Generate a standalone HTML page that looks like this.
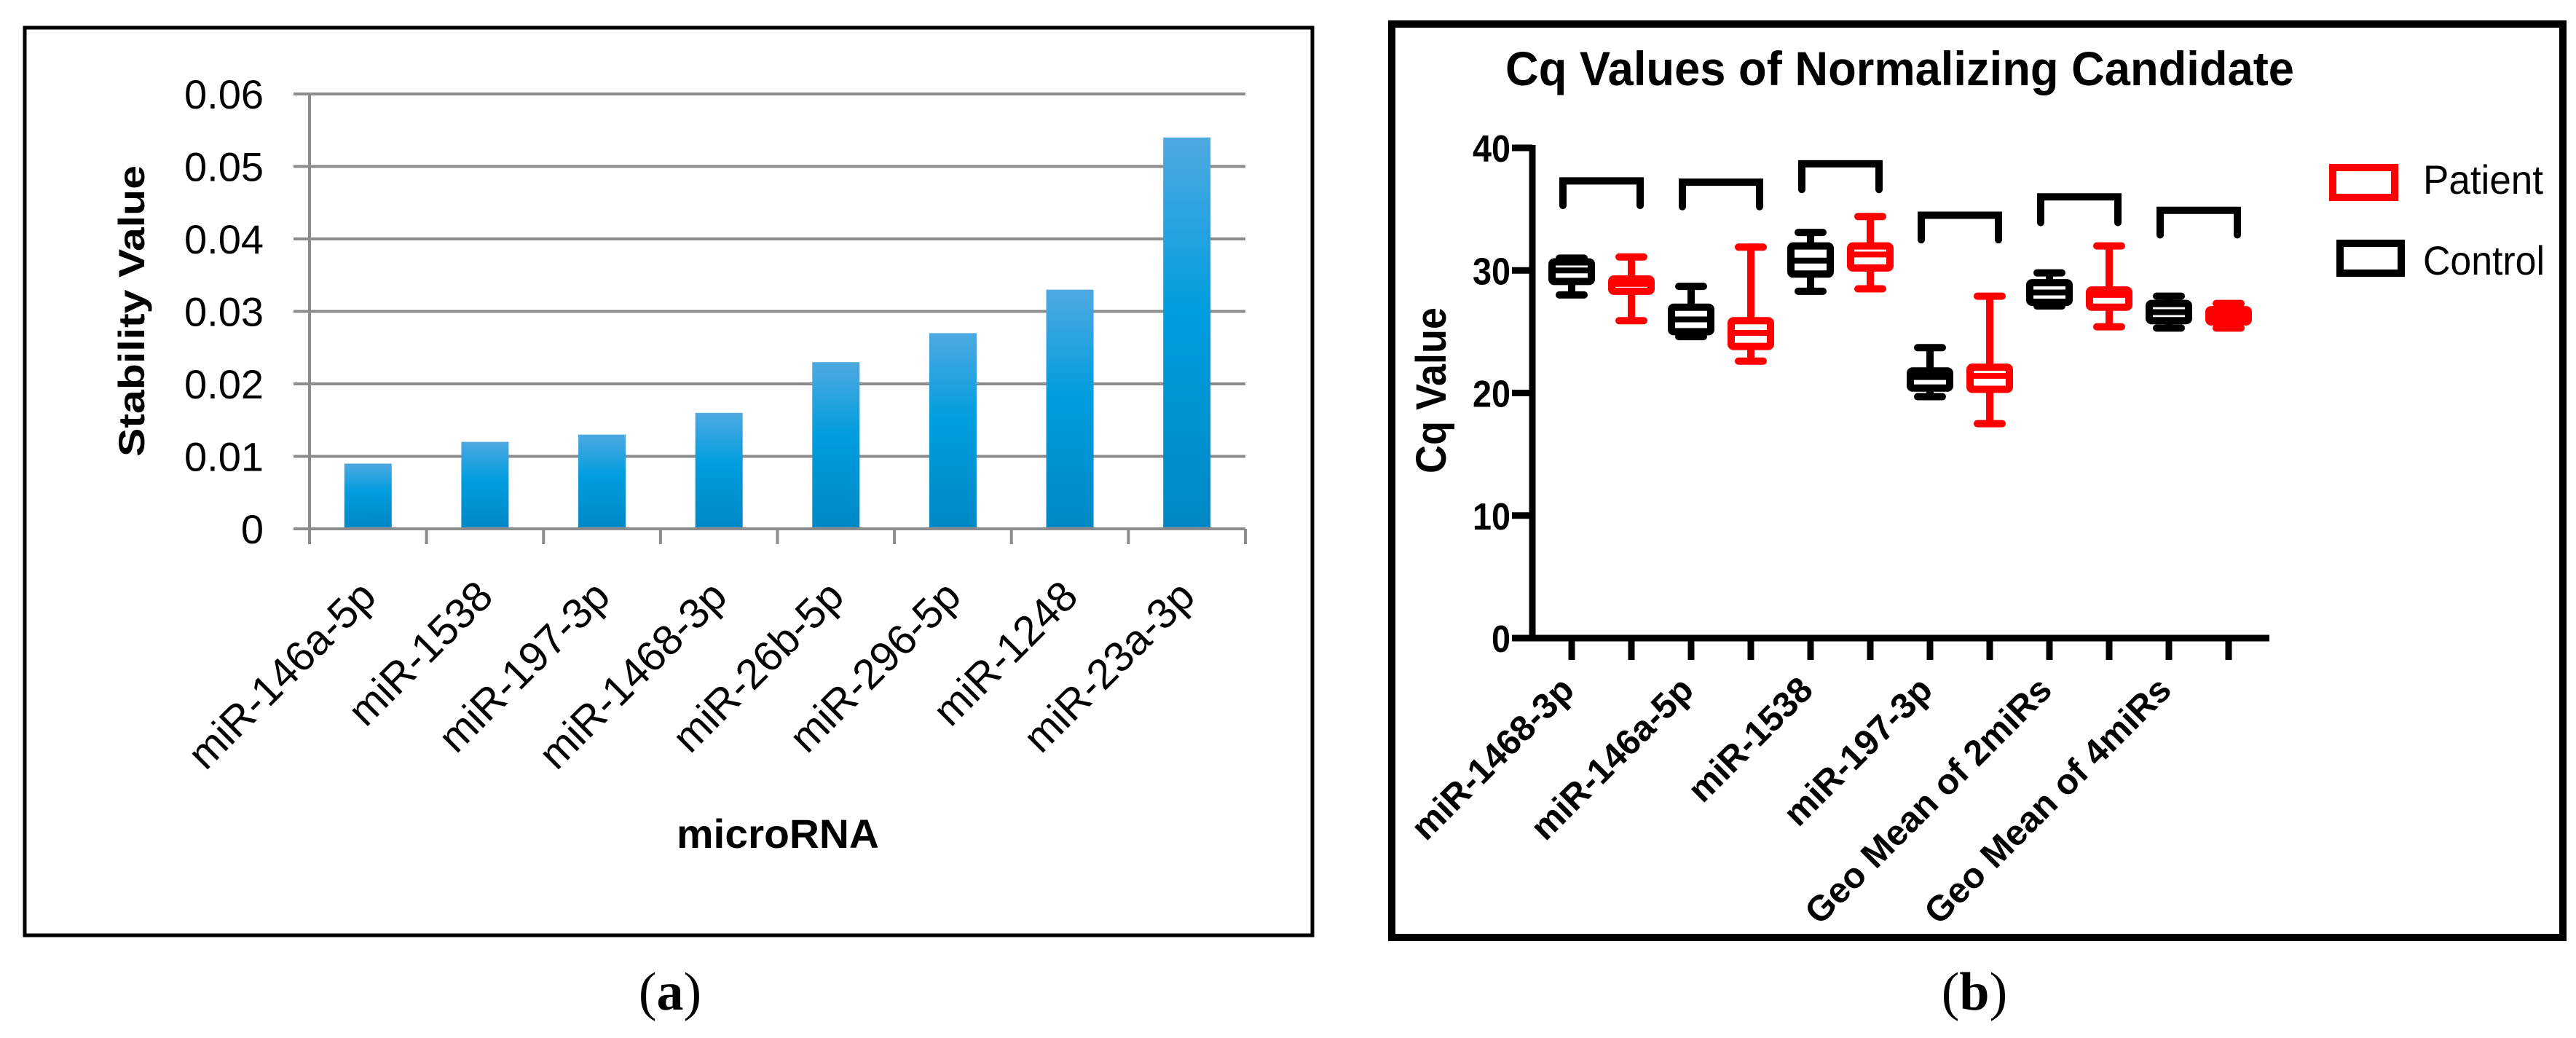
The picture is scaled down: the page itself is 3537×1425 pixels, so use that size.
<!DOCTYPE html>
<html><head><meta charset="utf-8"><style>
html,body{margin:0;padding:0;background:#fff;}
svg{display:block;}
text{font-family:"Liberation Sans",sans-serif;}
</style></head><body>
<svg id="fig" width="3537" height="1425" viewBox="0 0 3537 1425" xmlns="http://www.w3.org/2000/svg">
<defs>
<linearGradient id="barGrad" x1="0" y1="0" x2="0" y2="1">
<stop offset="0" stop-color="#4ea9e0"/><stop offset="0.45" stop-color="#009ddf"/><stop offset="1" stop-color="#0088c6"/>
</linearGradient>
</defs>
<rect x="34" y="38" width="1768" height="1246" fill="none" stroke="#000" stroke-width="5"/>
<rect x="1911" y="33" width="1608" height="1254" fill="none" stroke="#000" stroke-width="10"/>
<g id="pa"></g>
<g id="pb"></g>
<text x="920" y="1386" font-family="Liberation Serif" font-size="74" text-anchor="middle" style="font-family:'Liberation Serif',serif">(<tspan font-weight="bold">a</tspan>)</text>
<text x="2711" y="1386" font-family="Liberation Serif" font-size="74" text-anchor="middle" style="font-family:'Liberation Serif',serif">(<tspan font-weight="bold">b</tspan>)</text>
</svg>
<script>
// ---------- Panel (a) data ----------
const aCategories = ["miR-146a-5p","miR-1538","miR-197-3p","miR-1468-3p","miR-26b-5p","miR-296-5p","miR-1248","miR-23a-3p"];
const aValues = [0.009,0.012,0.013,0.016,0.023,0.027,0.033,0.054];
const aTicks = [0,0.01,0.02,0.03,0.04,0.05,0.06];
const aTickLabels = ["0","0.01","0.02","0.03","0.04","0.05","0.06"];

// ---------- Panel (b) data ----------
const bGroups = ["miR-1468-3p","miR-146a-5p","miR-1538","miR-197-3p","Geo Mean of 2miRs","Geo Mean of 4miRs"];
const ctrlMin = [28.0,24.6,28.3,19.7,27.1,25.3];
const ctrlQ1  = [29.1,25.0,29.7,20.4,27.4,25.9];
const ctrlMed = [30.0,26.0,30.8,21.3,28.2,26.6];
const ctrlQ3  = [30.7,27.0,32.0,21.8,29.0,27.3];
const ctrlMax = [31.0,28.7,33.1,23.7,29.8,27.9];
const patMin  = [25.9,22.6,28.5,17.5,25.4,25.3];
const patQ1   = [28.3,23.8,30.2,20.3,27.0,25.8];
const patMed  = [28.9,24.9,31.3,21.4,28.0,26.3];
const patQ3   = [29.3,25.9,32.0,22.1,28.4,26.8];
const patMax  = [31.1,31.9,34.4,27.9,32.0,27.3];
const bracketTop = [37.3,37.2,38.7,34.5,36.0,34.9];
const bracketLeg = [35.3,35.2,36.6,32.5,33.9,32.9];
const bTicks = [0,10,20,30,40];
const bTickLabels = ["0","10","20","30","40"];
const legendLabels = ["Patient","Control"];

const NS="http://www.w3.org/2000/svg";
function mk(tag, attrs, parent){const e=document.createElementNS(NS,tag);for(const k in attrs)e.setAttribute(k,attrs[k]);parent.appendChild(e);return e;}

// ---------- Panel (a) ----------
(function(){
  const g=document.getElementById('pa');
  const x0=425, x1=1710, yTop=129, yBot=726, vMax=0.06;
  const cw=(x1-x0)/aCategories.length;
  const ay=v=>yBot-(v/vMax)*(yBot-yTop);
  const ax=i=>x0+cw*(i+0.5);
  aTicks.forEach((t,i)=>{
    const l=mk('line',{x1:x0-22,x2:x1,y1:ay(t),y2:ay(t),stroke:'#8c8c8c','stroke-width':4},g);
    
    
    const tx=mk('text',{x:362,y:ay(t)+20,'font-size':56,'text-anchor':'end',fill:'#000'},g);
    tx.textContent=aTickLabels[i];
    
    
  });
  const ya=mk('line',{x1:x0,x2:x0,y1:yTop,y2:yBot+21,stroke:'#8c8c8c','stroke-width':4},g);
  
  
  for(let i=1;i<=aCategories.length;i++){
    const t=mk('line',{x1:x0+cw*i,x2:x0+cw*i,y1:yBot,y2:yBot+21,stroke:'#8c8c8c','stroke-width':4},g);
    
    
  }
  aValues.forEach((v,i)=>{
    const r=mk('rect',{x:ax(i)-32.5,y:ay(v),width:65,height:yBot-ay(v)-2,fill:'url(#barGrad)'},g);
    
    
    const cx=ax(i)+14, cy=822;
    const tx=mk('text',{x:cx,y:cy,'font-size':58,'text-anchor':'end',transform:`rotate(-45 ${cx} ${cy})`},g);
    tx.textContent=aCategories[i];
    
    
  });
  const yt=mk('text',{x:0,y:0,'font-size':50,'font-weight':'bold','text-anchor':'middle',transform:'translate(198 427) rotate(-90)',textLength:400,lengthAdjust:'spacingAndGlyphs'},g);
  yt.textContent='Stability Value';
  
  
  const xt=mk('text',{x:1068,y:1164,'font-size':56,'font-weight':'bold','text-anchor':'middle',textLength:278,lengthAdjust:'spacingAndGlyphs'},g);
  xt.textContent='microRNA';
  
  
})();

// ---------- Panel (b) ----------
(function(){
  const g=document.getElementById('pb');
  const x0=2104, x1=3116, yTop=203, yBot=876, vMax=40;
  const by=v=>yBot-(v/vMax)*(yBot-yTop);
  const tickX=i=>2158+i*82;
  const title=mk('text',{x:2067,y:117,'font-size':66,'font-weight':'bold','text-anchor':'start',textLength:1083,lengthAdjust:'spacingAndGlyphs'},g);
  title.textContent='Cq Values of Normalizing Candidate';
  
  
  const ya=mk('line',{x1:x0,x2:x0,y1:yTop-4,y2:yBot+4,stroke:'#000','stroke-width':9},g);
  
  
  const xa=mk('line',{x1:x0-28,x2:x1,y1:yBot,y2:yBot,stroke:'#000','stroke-width':9},g);
  
  
  bTicks.forEach((t,i)=>{
    const l=mk('line',{x1:x0-28,x2:x0,y1:by(t),y2:by(t),stroke:'#000','stroke-width':9},g);
    
    
    const tx=mk('text',{x:2074,y:by(t)+19,'font-size':52,'font-weight':'bold','text-anchor':'end',textLength:bTickLabels[i].length*26,lengthAdjust:'spacingAndGlyphs'},g);
    tx.textContent=bTickLabels[i];
    
    
  });
  for(let i=0;i<bGroups.length*2;i++){
    const t=mk('line',{x1:tickX(i),x2:tickX(i),y1:yBot,y2:yBot+30,stroke:'#000','stroke-width':9},g);
    
    
  }
  const yt=mk('text',{x:0,y:0,'font-size':58,'font-weight':'bold','text-anchor':'middle',transform:'translate(1985 536) rotate(-90)',textLength:228,lengthAdjust:'spacingAndGlyphs'},g);
  yt.textContent='Cq Value';
  
  
  function box(cx,mn,q1,md,q3,mx,col,name){
    const bg=mk('g',{},g);
    
    
    mk('line',{x1:cx,x2:cx,y1:by(mx),y2:by(mn),stroke:col,'stroke-width':10},bg);
    mk('line',{x1:cx-17,x2:cx+17,y1:by(mx),y2:by(mx),stroke:col,'stroke-width':10,'stroke-linecap':'round'},bg);
    mk('line',{x1:cx-17,x2:cx+17,y1:by(mn),y2:by(mn),stroke:col,'stroke-width':10,'stroke-linecap':'round'},bg);
    mk('rect',{x:cx-27,y:by(q3),width:54,height:by(q1)-by(q3),fill:'#fff',stroke:col,'stroke-width':10,rx:3},bg);
    mk('line',{x1:cx-27,x2:cx+27,y1:by(md),y2:by(md),stroke:col,'stroke-width':8},bg);
  }
  bGroups.forEach((name,i)=>{
    const cC=tickX(2*i), cP=tickX(2*i+1);
    box(cC,ctrlMin[i],ctrlQ1[i],ctrlMed[i],ctrlQ3[i],ctrlMax[i],'#000','control-box-'+i);
    box(cP,patMin[i],patQ1[i],patMed[i],patQ3[i],patMax[i],'#ff0000','patient-box-'+i);
    const br=mk('path',{d:`M${cC-12} ${by(bracketLeg[i])} L${cC-12} ${by(bracketTop[i])} L${cP+12} ${by(bracketTop[i])} L${cP+12} ${by(bracketLeg[i])}`,fill:'none',stroke:'#000','stroke-width':10,'stroke-linecap':'round'},g);
    
    
    const ax=cC+6, ay=950;
    const tx=mk('text',{x:ax,y:ay,'font-size':49,'font-weight':'bold','text-anchor':'end',transform:`rotate(-45 ${ax} ${ay})`},g);
    tx.textContent=name;
    
    
  });
  // legend
  const lp=mk('rect',{x:3203,y:230,width:85,height:41,fill:'none',stroke:'#ff0000','stroke-width':10},g);
  
  
  const lc=mk('rect',{x:3213,y:334,width:84,height:41,fill:'none',stroke:'#000','stroke-width':10},g);
  
  
  const t1=mk('text',{x:3327,y:266,'font-size':56,textLength:165,lengthAdjust:'spacingAndGlyphs'},g);
  t1.textContent=legendLabels[0];
  
  
  const t2=mk('text',{x:3327,y:377,'font-size':56,textLength:167,lengthAdjust:'spacingAndGlyphs'},g);
  t2.textContent=legendLabels[1];
  
  
})();
</script>
</body></html>
